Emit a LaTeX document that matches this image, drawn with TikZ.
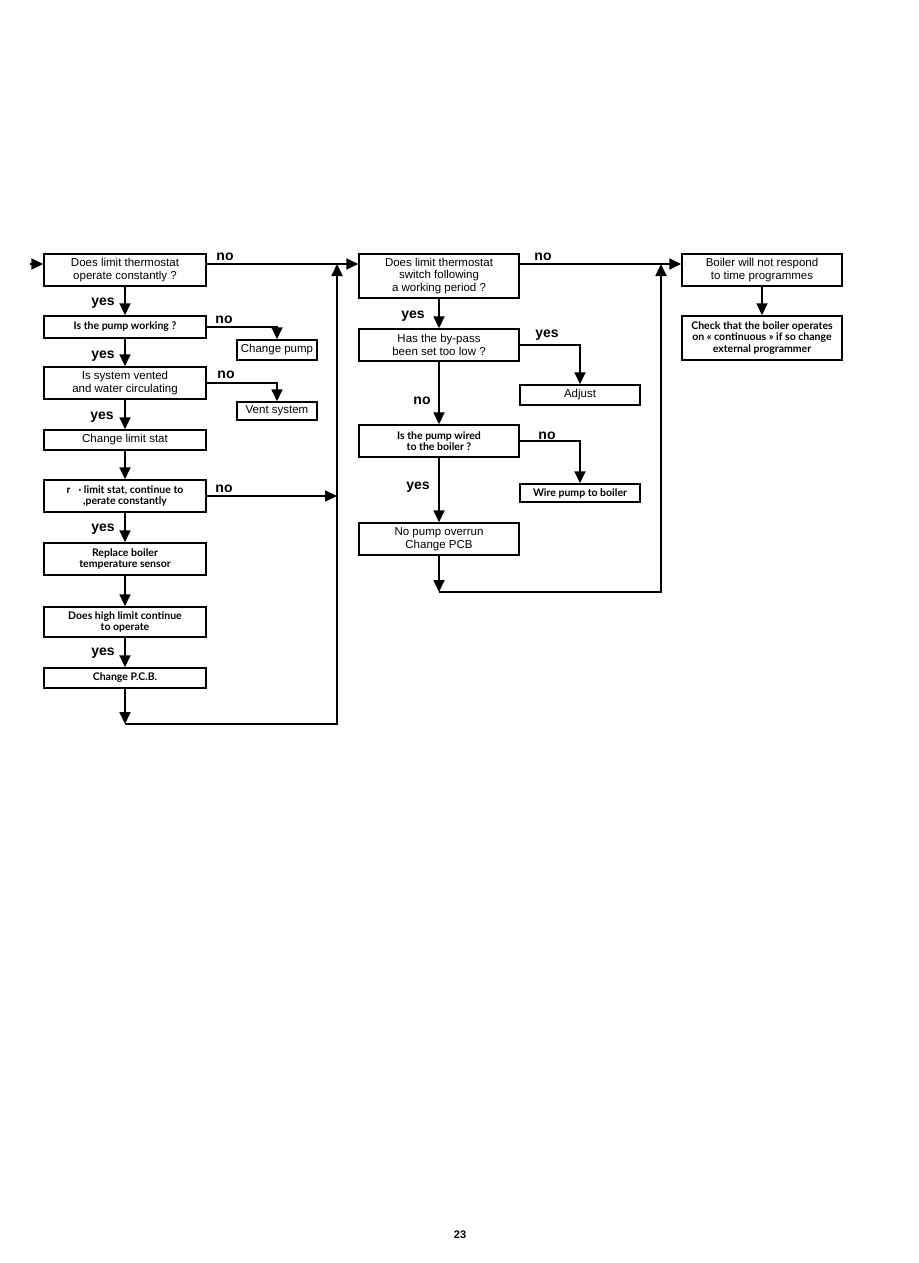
\documentclass[tikz,border=0pt]{standalone}
\usepackage{fontspec}
\setmainfont{Liberation Sans}
\newfontfamily\altf{Lato}
\usetikzlibrary{arrows.meta}
\begin{document}
\begin{tikzpicture}[x=1pt,y=-1pt,line width=1.8pt,
  box/.style={draw,line width=1.5pt,inner sep=0pt,align=center,font=\fontsize{11.5}{12.5}\selectfont},
  abox/.style={box,font=\altf\bfseries\fontsize{10.5}{11.5}\selectfont},
  arr/.style={-{Triangle[length=12pt,width=11pt]}},
  lab/.style={font=\bfseries\fontsize{14}{14}\selectfont,inner sep=0pt}]
\useasboundingbox (0,0) rectangle (918,1263);
% left column
\node[box,minimum width=162pt,minimum height=32pt] (b1) at (125,270) {Does limit thermostat\\operate constantly ?};
\node[abox,minimum width=162pt,minimum height=22pt] (b2) at (125,327) {Is the pump working ?};
\node[box,minimum width=162pt,minimum height=32pt] (b3) at (125,383) {Is system vented\\and water circulating};
\node[box,minimum width=162pt,minimum height=20pt] (b4) at (125,440) {Change limit stat};
\node[abox,minimum width=162pt,minimum height=32pt] (b5) at (125,496) {r\hspace{8pt}· limit stat, continue to\\,perate constantly};
\node[abox,minimum width=162pt,minimum height=32pt] (b6) at (125,559) {Replace boiler\\temperature sensor};
\node[abox,minimum width=162pt,minimum height=30pt] (b7) at (125,622) {Does high limit continue\\to operate};
\node[abox,minimum width=162pt,minimum height=20pt] (b8) at (125,678) {Change P.C.B.};
\node[box,minimum width=80pt,minimum height=20pt] (cp) at (277,350) {Change pump};
\node[box,minimum width=80pt,minimum height=18pt] (vs) at (277,411) {Vent system};
% middle column
\node[box,minimum width=160pt,minimum height=44pt] (A) at (439,276) {Does limit thermostat\\switch following\\a working period ?};
\node[box,minimum width=160pt,minimum height=32pt] (B) at (439,345) {Has the by-pass\\been set too low ?};
\node[abox,minimum width=160pt,minimum height=32pt] (C) at (439,441) {Is the pump wired\\to the boiler ?};
\node[box,minimum width=160pt,minimum height=32pt] (D) at (439,539) {No pump overrun\\Change PCB};
\node[box,minimum width=120pt,minimum height=20pt] (ad) at (580,395) {Adjust};
\node[abox,minimum width=120pt,minimum height=18pt] (wp) at (580,493) {Wire pump to boiler};
% right column
\node[box,minimum width=160pt,minimum height=32pt] (R1) at (762,270) {Boiler will not respond\\to time programmes};
\node[abox,minimum width=160pt,minimum height=44pt] (R2) at (762,338) {Check that the boiler operates\\on « continuous » if so change\\external programmer};
% coordinates
\coordinate (e0) at (30,264);
\coordinate (j1) at (337,264);
\coordinate (j1b) at (337,724);
\coordinate (l1) at (125,724);
\coordinate (m1) at (439,592);
\coordinate (j2) at (661,592);
\coordinate (j2t) at (661,264);
% connectors left
\draw[arr] (e0) -- (b1.west |- e0);
\draw[arr] (b1) -- (b2);
\draw[arr] (b2) -- (b3);
\draw[arr] (b3) -- (b4);
\draw[arr] (b4) -- (b5);
\draw[arr] (b5) -- (b6);
\draw[arr] (b6) -- (b7);
\draw[arr] (b7) -- (b8);
\draw[arr] (b8) -- (l1);
\draw[arr] (l1) -- (j1b) -- (j1);
\draw[arr] (b1.east |- j1) -- (A.west |- j1);
\draw[arr] (b2.east) -| (cp.north);
\draw[arr] (b3.east) -| (vs.north);
\draw[arr] (b5.east) -- (b5.east -| j1);
% connectors middle
\draw[arr] (A) -- (B);
\draw[arr] (B) -- (C);
\draw[arr] (C) -- (D);
\draw[arr] (D) -- (m1);
\draw[arr] (m1) -- (j2) -- (j2t);
\draw[arr] (A.east |- j2t) -- (R1.west |- j2t);
\draw[arr] (B.east) -| (ad.north);
\draw[arr] (C.east) -| (wp.north);
% right
\draw[arr] (R1) -- (R2);
% labels
\node[lab] (y1) at (103,303) {yes};
\node[lab] (y2) at (103,356) {yes};
\node[lab] (y3) at (102,417) {yes};
\node[lab] (y4) at (103,529) {yes};
\node[lab] (y5) at (103,653) {yes};
\node[lab] (n1) at (225,257) {no};
\node[lab] (n2) at (224,320) {no};
\node[lab] (n3) at (226,375) {no};
\node[lab] (n4) at (224,489) {no};
\node[lab] (n5) at (543,257) {no};
\node[lab] (y6) at (413,316) {yes};
\node[lab] (y7) at (547,335) {yes};
\node[lab] (n6) at (422,401) {no};
\node[lab] (n7) at (547,436) {no};
\node[lab] (y8) at (418,487) {yes};
\node[font=\bfseries\fontsize{11}{12}\selectfont] (pg) at (460,1235) {23};
\end{tikzpicture}
\end{document}
